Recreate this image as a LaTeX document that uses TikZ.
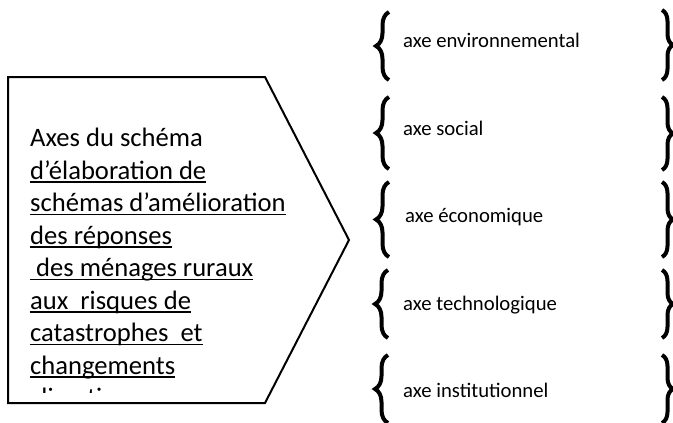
\documentclass[tikz,border=0pt]{standalone}
\usepackage{fontspec}
\setmainfont{Carlito}
\usetikzlibrary{decorations.pathreplacing}
\begin{document}
\begin{tikzpicture}[x=1pt,y=-1pt,
  leftline/.style={anchor=base west, inner sep=0pt, font=\fontsize{26.6}{32}\selectfont},
  axetext/.style={anchor=base west, inner sep=0pt, font=\fontsize{20.7}{24}\selectfont},
  uline/.style={line width=1.6pt},
  lbrace/.style={decorate, decoration={brace, amplitude=13pt}, line width=4pt},
  rbrace/.style={decorate, decoration={brace, amplitude=11pt}, line width=4pt},
  pent/.style={draw, line width=2pt, line join=miter}]
\useasboundingbox (0,0) rectangle (673,423);
% pentagon
\coordinate (p1) at (8,77);
\coordinate (p2) at (265,77);
\coordinate (p3) at (349,240);
\coordinate (p4) at (265,403);
\coordinate (p5) at (8,403);
\draw[pent] (p1) -- (p2) -- (p3) -- (p4) -- (p5) -- cycle;
% text inside
\begin{scope}
\clip (8,77) rectangle (349,392);
\node[leftline] (L1) at (30,146.5) {Axes du schéma};
\node[leftline] (L2) at (30,179) {d’élaboration de};
\node[leftline] (L3) at (30,211.5) {schémas d’amélioration};
\node[leftline] (L4) at (30,244) {des réponses};
\node[leftline] (L5) at (30,276.5) {\ des ménages ruraux};
\node[leftline] (L6) at (30,309) {aux\ \ risques de};
\node[leftline] (L7) at (30,341.5) {catastrophes\ \ et};
\node[leftline] (L8) at (30,374) {changements};
\node[leftline] (L9) at (30,406.5) {climatiques};
\foreach \n in {L2,L3,L4,L5,L6,L7,L8,L9}
  \draw[uline] ([yshift=-3pt]\n.base west) -- ([yshift=-3pt]\n.base east);
\end{scope}
% right side axes
\node[axetext] (A1) at (403,47) {axe environnemental};
\node[axetext] (A2) at (403,135) {axe social};
\node[axetext] (A3) at (405,222) {axe économique};
\node[axetext] (A4) at (403,310) {axe technologique};
\node[axetext] (A5) at (403,397) {axe institutionnel};
% left braces
\coordinate (lb1a) at (389,80);  \coordinate (lb1b) at (389,12);
\coordinate (lb2a) at (389,169); \coordinate (lb2b) at (389,97);
\coordinate (lb3a) at (389,257); \coordinate (lb3b) at (389,182);
\coordinate (lb4a) at (388,338); \coordinate (lb4b) at (388,270);
\coordinate (lb5a) at (388,423); \coordinate (lb5b) at (388,355);
\foreach \i in {1,...,5}
  \draw[lbrace] (lb\i a) -- (lb\i b);
% right braces
\coordinate (rb1a) at (662,10);  \coordinate (rb1b) at (662,80);
\coordinate (rb2a) at (662,97);  \coordinate (rb2b) at (662,170);
\coordinate (rb3a) at (662,182); \coordinate (rb3b) at (662,257);
\coordinate (rb4a) at (662,270); \coordinate (rb4b) at (662,338);
\coordinate (rb5a) at (662,355); \coordinate (rb5b) at (662,423);
\foreach \i in {1,...,5}
  \draw[rbrace] (rb\i a) -- (rb\i b);
\end{tikzpicture}
\end{document}
